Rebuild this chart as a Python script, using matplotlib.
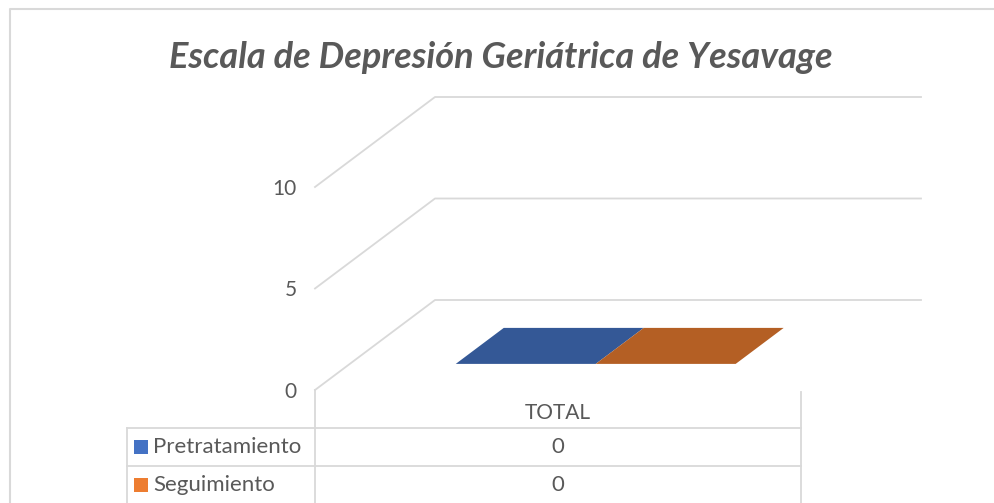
import matplotlib
matplotlib.use("Agg")
import matplotlib.pyplot as plt
from matplotlib.patches import Polygon, Rectangle
from matplotlib.lines import Line2D

# ---------------- data ----------------
title = "Escala de Depresión Geriátrica de Yesavage"
categories = ["TOTAL"]
series_names = ["Pretratamiento", "Seguimiento"]
pretratamiento = [0]
seguimiento = [0]
y_ticks = [0, 5, 10]

# ---------------- style ----------------
legend_colors = ["#4472C4", "#ED7D31"]
top_colors = ["#345896", "#B45F24"]
front_colors = ["#3A64AC", "#D06C28"]
side_colors = ["#2E4F86", "#A0551F"]
text_color = "#595959"
grid_color = "#D9D9D9"
FONT = ["Lato", "DejaVu Sans"]

W, H = 994, 503
fig = plt.figure(figsize=(W / 100, H / 100), dpi=100)
fig.patch.set_facecolor("white")


def fx(px):
    return px / W


def fy(py):
    return 1 - py / H


# front plane of the 3-D plot area (pixel layout)
FL, FR, FB = 315, 801, 390
UNIT = 20.3              # px per value unit
YMAX = 10
DEPTH_X, DEPTH_Y = 120, 90  # px offset from front to back wall

ax = fig.add_axes([fx(FL), fy(FB), (FR - FL) / W, YMAX * UNIT / H])
ax.set_xlim(-0.5, len(categories) - 0.5)
ax.set_ylim(0, YMAX)
for s in ax.spines.values():
    s.set_visible(False)
ax.set_xticks([])
ax.set_yticks(y_ticks)
ax.set_yticklabels([str(t) for t in y_ticks], fontsize=15, color=text_color,
                   family=FONT)
ax.tick_params(axis="y", length=0, pad=13)
ax.patch.set_alpha(0)

band_w = (FR - FL) / len(categories)
DX = DEPTH_X / band_w      # depth offset in x data units
DY = DEPTH_Y / UNIT        # depth offset in y data units


def P(x, v, d):
    return (x + d * DX, v + d * DY)


# gridlines: left wall diagonals + back wall horizontals
for t in y_ticks:
    x0 = -0.5
    x1 = len(categories) - 0.5
    ax.add_line(Line2D([P(x0, t, 0)[0], P(x0, t, 1)[0], P(x1, t, 1)[0]],
                       [P(x0, t, 0)[1], P(x0, t, 1)[1], P(x1, t, 1)[1]],
                       color=grid_color, lw=1.3, clip_on=False, zorder=1))

# bars (3-D boxes)
series = [pretratamiento, seguimiento]
bar_w = 0.288
bar_shift = 0.006
d0, d1 = 0.29, 0.69
for ci, cat in enumerate(categories):
    for si, vals in enumerate(series):
        v = vals[ci]
        xl = ci - bar_w + si * bar_w + bar_shift
        xr = xl + bar_w
        # side face (right)
        ax.add_patch(Polygon([P(xr, 0, d0), P(xr, 0, d1), P(xr, v, d1), P(xr, v, d0)],
                             closed=True, facecolor=side_colors[si], edgecolor="none",
                             clip_on=False, zorder=3))
        # front face
        ax.add_patch(Polygon([P(xl, 0, d0), P(xr, 0, d0), P(xr, v, d0), P(xl, v, d0)],
                             closed=True, facecolor=front_colors[si], edgecolor="none",
                             clip_on=False, zorder=4))
        # top face
        ax.add_patch(Polygon([P(xl, v, d0), P(xr, v, d0), P(xr, v, d1), P(xl, v, d1)],
                             closed=True, facecolor=top_colors[si], edgecolor="none",
                             clip_on=False, zorder=5))

# ---------------- chart border ----------------
fig.add_artist(Line2D([fx(10), fx(10), fx(W)], [fy(H), fy(9), fy(9)],
                      color=grid_color, lw=1.5))

# ---------------- title ----------------
fig.text(fx(501), fy(57), title, ha="center", va="center", fontsize=26,
         fontweight="bold", style="italic", color=text_color, family=FONT)

# ---------------- data table ----------------
TL = 127
row_lines = [428, 466]
lw_t = 1.3
for ry in row_lines:
    fig.add_artist(Line2D([fx(TL), fx(FR)], [fy(ry), fy(ry)], color=grid_color, lw=lw_t))
fig.add_artist(Line2D([fx(FL), fx(FL)], [fy(FB), fy(H)], color=grid_color, lw=lw_t))
fig.add_artist(Line2D([fx(FR), fx(FR)], [fy(FB + 2), fy(H)], color=grid_color, lw=lw_t))
fig.add_artist(Line2D([fx(TL), fx(TL)], [fy(row_lines[0]), fy(H)], color=grid_color, lw=lw_t))

col_centers = [FL + band_w * (i + 0.5) for i in range(len(categories))]
for i, cat in enumerate(categories):
    fig.text(fx(col_centers[i]), fy(413), cat, ha="center", va="center",
             fontsize=15, color=text_color, family=FONT)

row_centers = [447, 485]
for si, name in enumerate(series_names):
    yc = row_centers[si]
    fig.add_artist(Rectangle((fx(134), fy(yc + 7)), 14 / W, 14 / H,
                             facecolor=legend_colors[si], edgecolor="none"))
    fig.text(fx(153), fy(yc), name, ha="left", va="center", fontsize=16,
             color=text_color, family=FONT)
    for i in range(len(categories)):
        fig.text(fx(col_centers[i]), fy(yc), str(series[si][i]), ha="center",
                 va="center", fontsize=16, color=text_color, family=FONT)

fig.savefig("out.png", dpi=100, facecolor="white")
